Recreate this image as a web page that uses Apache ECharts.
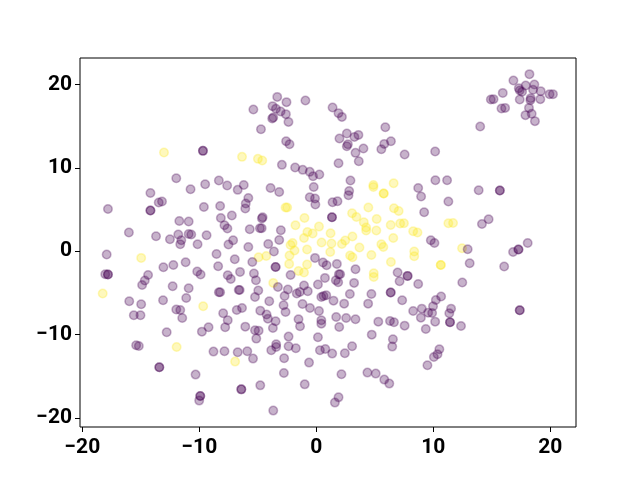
<!DOCTYPE html>
<html lang="en" style="height: 100%">

<head>
    <meta charset="UTF-8">
    <title>t-SNE scatter</title>
    <script src="https://cdn.jsdelivr.net/npm/echarts@6/dist/echarts.min.js"></script>
</head>

<body style="height: 100%; margin: 0; background: #fff">
    <div id="main" style="width: 640px; height: 480px"></div>
    <script>
        var xTicks = [-20, -10, 0, 10, 20];
        var yTicks = [-20, -10, 0, 10, 20];

        // points that sit on top of each other are listed twice, that is what makes them darker
        var yellowPoints = [
            [-13.02, 11.85], [-6.35, 11.33], [-4.99, 11.09], [-4.62, 10.89], [6.61, 8.17], [4.88, 7.96],
            [4.88, 7.72], [5.76, 6.93], [5.76, 6.93], [-2.63, 5.25], [-2.49, 5.25], [4.45, 5.25],
            [6.64, 5.17], [7.04, 4.84], [3.06, 4.56], [3.43, 4.12], [5.16, 3.88], [4.06, 3.48],
            [6.36, 3.16], [7.17, 3.33], [7.49, 3.36], [4.26, 2.85], [4.26, 2.49], [5.13, 2.49],
            [6.58, 1.6], [-1.01, 4.0], [-1.78, 3.12], [0.23, 2.96], [-0.76, 2.32], [-0.31, 2.12],
            [1.22, 2.16], [-1.05, 1.6], [3.09, 1.76], [2.47, 1.28], [2.19, 0.88], [0.45, 1.04],
            [1.3, 0.92], [-2.03, 1.0], [-2.2, 0.76], [-1.86, 0.08], [-0.79, 0.2], [-2.29, -0.52],
            [1.19, -0.08], [3.69, 0.44], [5.56, 0.84], [5.73, 0.52], [2.89, -0.52], [3.09, -0.72],
            [4.71, -0.44], [6.38, -1.29], [-4.93, -0.72], [-4.28, -0.56], [-2.32, -1.52], [-0.79, -1.6],
            [-1.52, -2.37], [-1.05, -2.56], [4.91, -2.64], [4.91, -3.08], [-3.68, -3.8], [11.29, 3.36],
            [11.69, 3.4], [8.28, 2.4], [8.65, 2.25], [12.46, 0.36], [8.37, -0.04], [8.37, -0.6],
            [10.64, -1.65], [10.64, -1.65], [-14.97, -0.8], [-18.26, -5.08], [-9.67, -6.61], [-11.94, -11.49],
            [-6.94, -13.25]
        ];

        var purplePoints = [
            [-9.69, 12.05], [-9.69, 12.05], [-11.97, 8.77], [-9.5, 8.05], [-8.33, 8.49], [-7.62, 7.9],
            [-6.2, 7.96], [-3.34, 18.53], [-2.55, 17.9], [-0.93, 18.1], [-5.38, 17.02], [-3.74, 17.42],
            [-3.45, 17.1], [-3.05, 16.78], [-2.6, 16.46], [-3.68, 16.06], [-3.77, 15.94], [-2.38, 15.53],
            [-4.73, 14.65], [1.39, 17.26], [1.9, 16.58], [2.19, 16.13], [5.9, 14.89], [2.61, 14.13],
            [1.98, 13.54], [3.26, 13.73], [3.6, 13.97], [2.7, 12.85], [2.61, 12.61], [4.03, 12.33],
            [3.35, 11.81], [3.63, 10.81], [6.38, 13.21], [5.81, 12.89], [5.56, 12.25], [7.55, 11.62],
            [-2.58, 13.21], [-2.29, 12.85], [-2.94, 10.37], [-1.81, 10.05], [-1.16, 9.77], [-0.56, 9.53],
            [0.26, 9.21], [-0.28, 9.01], [1.9, 10.57], [2.92, 8.49], [-0.22, 7.72],
            [18.22, 21.26], [16.85, 20.5], [17.9, 19.9], [18.64, 20.02], [17.31, 19.58], [18.53, 19.38],
            [17.39, 19.3], [17.59, 19.14], [19.18, 19.22], [19.94, 18.86], [20.23, 18.86], [15.94, 19.01],
            [14.92, 18.22], [15.15, 18.26], [18.33, 18.38], [18.3, 18.14], [17.39, 18.22], [19.15, 18.26],
            [15.83, 17.14], [16.14, 17.21], [18.18, 17.21], [17.88, 16.34], [18.41, 16.5], [18.69, 15.62],
            [14.01, 14.98], [10.16, 11.97], [10.18, 8.53], [11.18, 8.53],
            [-10.75, 7.45], [-6.72, 7.37], [-14.18, 7.0], [-13.47, 5.85], [-13.19, 5.97], [-17.81, 5.08],
            [-14.18, 4.89], [-14.18, 4.89], [-9.61, 5.32], [-8.22, 5.44], [-5.81, 6.4], [-6.03, 5.73],
            [-6.07, 5.13], [-8.16, 4.0], [-7.22, 4.29], [-11.71, 3.64], [-10.91, 3.57], [-7.85, 3.12],
            [-7.6, 2.73], [-16.02, 2.25], [-13.7, 1.8], [-11.8, 2.0], [-12.51, 1.44], [-11.54, 1.32],
            [-11.63, 0.84], [-10.91, 2.08], [-10.69, 2.0], [-10.15, 0.84], [-9.38, 1.92], [-7.11, 1.32],
            [-7.51, 0.8], [-5.69, 2.64], [-5.81, 0.52], [-8.53, -0.32], [-6.97, -0.96], [-17.92, -0.4],
            [-13.07, -1.92], [-12.22, -1.65], [-11.17, -1.32], [-8.39, -1.8], [-10.18, -2.44], [-9.89, -2.8],
            [-6.52, -2.48], [-7.57, -2.88], [-7.31, -3.33], [-18.04, -2.76], [-17.81, -2.8], [-17.81, -2.8],
            [-14.38, -2.85], [-14.66, -3.52], [-14.89, -4.05], [-12.28, -4.2], [-10.91, -4.44], [-8.33, -4.92],
            [-8.22, -4.92], [-6.63, -4.65], [-6.55, -4.65], [-15.99, -6.0], [-14.97, -6.37], [-13.1, -5.89],
            [-11.12, -5.61],
            [-3.91, 7.6], [-3.17, 7.12], [2.81, 7.24], [2.75, 6.73], [-0.56, 6.49], [-0.11, 6.33],
            [-0.08, 5.61], [1.39, 5.89], [1.81, 6.0], [1.34, 4.08], [1.34, 4.08], [-4.59, 4.08],
            [-4.65, 3.93], [-4.82, 2.76], [-4.67, 2.76], [-3.03, 2.52], [-3.17, 1.36], [-4.11, 0.88],
            [-3.62, -0.04], [-5.47, -1.29], [-5.33, -2.68], [-5.16, -3.48], [-4.96, -4.72], [-5.24, -5.49],
            [-4.02, -6.0], [-3.48, -1.89], [-3.48, -1.89], [-2.2, -2.85], [-3.28, -4.29], [-2.43, -4.6],
            [-2.71, -5.37], [-1.05, -4.12], [-1.41, -4.89], [-1.67, -5.08], [-0.73, -4.8], [0.14, -4.0],
            [0.74, -3.2], [-0.11, -0.8], [0.57, -1.36], [0.88, -1.68], [1.76, -1.52], [1.93, -2.76],
            [2.04, -2.76], [1.67, -3.48], [1.87, -3.72], [3.23, -3.8], [3.35, -2.16], [0.62, -5.37],
            [0.85, -5.29], [0.43, -5.49], [2.87, -5.13], [4.71, -5.13], [6.36, -4.96], [6.36, -4.96],
            [6.95, -2.56], [7.8, -2.96], [7.8, -2.96], [7.12, -3.6], [7.34, -5.89],
            [8.71, 7.6], [8.96, 6.57], [13.88, 7.33], [15.69, 7.29], [15.69, 7.29], [11.29, 5.97],
            [9.22, 4.68], [14.73, 3.84], [14.16, 3.28], [9.79, 1.32], [10.1, 1.0], [12.94, 0.24],
            [18.07, 1.0], [17.28, 0.2], [17.28, 0.2], [16.82, -0.08], [13.11, -1.44], [16.06, -1.84],
            [8.71, -3.93], [12.48, -3.76], [10.67, -5.44], [10.22, -5.85],
            [-15.6, -7.69], [-15.03, -7.69], [-11.97, -7.0], [-11.63, -7.05], [-11.46, -8.01], [-7.96, -7.45],
            [-6.8, -7.05], [-6.35, -6.81], [-7.57, -8.29], [-7.79, -9.13], [-6.07, -9.05], [-12.79, -9.73],
            [-9.21, -9.13], [-9.78, -9.65], [-15.4, -11.29], [-15.17, -11.37], [-8.79, -12.05], [-7.85, -12.01],
            [-6.72, -12.13], [-5.9, -12.01], [-13.42, -13.93], [-13.42, -13.93], [-10.32, -14.81], [-6.41, -16.58],
            [-6.41, -16.58], [-9.92, -17.38], [-9.92, -17.38], [-10.01, -17.93],
            [-4.79, -7.13], [-2.8, -6.49], [-2.63, -7.29], [-4.25, -7.6], [-4.14, -8.09], [-3.48, -8.41],
            [-3.71, -9.21], [-5.24, -9.49], [-4.93, -9.53], [-5.13, -10.49], [-2.37, -10.25], [-3.43, -11.17],
            [-3.43, -11.49], [-3.85, -11.89], [-5.41, -12.89], [-2.37, -11.41], [-1.75, -11.65], [-2.75, -12.85],
            [-0.62, -13.37], [-2.77, -14.62], [-4.79, -16.1], [-0.99, -15.98], [-3.68, -19.13], [2.15, -14.77],
            [1.9, -17.54], [1.59, -18.17], [4.37, -14.57], [5.08, -14.69], [5.81, -15.41], [6.24, -15.89],
            [0.14, -10.33], [0.31, -11.89], [0.77, -11.73], [1.36, -12.29], [2.44, -12.25], [3.06, -11.41],
            [4.74, -10.01], [6.55, -10.57], [6.49, -11.45], [-1.52, -8.17], [-1.39, -9.01], [-1.18, -6.33],
            [-0.54, -6.81], [0.23, -7.17], [0.43, -8.29], [0.43, -8.69], [1.7, -7.89], [1.96, -9.09],
            [2.55, -8.01], [3.35, -8.17], [5.3, -8.45], [6.3, -8.37], [6.64, -8.53], [7.55, -8.93],
            [4.43, -6.29], [1.47, -5.93], [2.38, -6.29],
            [17.39, -7.09], [17.39, -7.09], [8.28, -7.17], [9.02, -6.89], [9.98, -6.61], [9.56, -7.37],
            [9.9, -7.41], [8.94, -7.97], [10.16, -8.45], [11.52, -6.89], [11.37, -7.45], [11.43, -8.53],
            [11.43, -8.53], [12.37, -8.97], [9.36, -9.33], [10.52, -11.77], [10.36, -12.37], [10.05, -12.69],
            [9.5, -13.69]
        ];

        var myChart = echarts.init(document.getElementById("main"));

        function tickLabel(value) {
            return String(value).replace('-', '\u2212');
        }

        function makeAxis(ticks, min, max, margin) {
            return {
                type: 'value',
                min: min,
                max: max,
                splitLine: { show: false },
                axisLine: { show: false, onZero: false },
                axisTick: {
                    show: true,
                    length: 5,
                    lineStyle: { color: '#000', width: 1 },
                    customValues: ticks
                },
                axisLabel: {
                    show: true,
                    color: '#000',
                    fontFamily: 'Roboto',
                    fontWeight: 'bold',
                    fontSize: 21,
                    margin: margin,
                    customValues: ticks,
                    formatter: tickLabel
                }
            };
        }

        var option = {
            animation: false,
            backgroundColor: '#fff',
            grid: {
                show: true,
                left: 80,
                right: 64,
                top: 58,
                bottom: 53,
                borderColor: '#000',
                borderWidth: 1
            },
            xAxis: makeAxis(xTicks, -20.2, 22.2, 10),
            yAxis: makeAxis(yTicks, -21.1, 23.2, 8),
            series: [
                {
                    type: 'scatter',
                    data: yellowPoints,
                    symbolSize: 8.5,
                    itemStyle: {
                        color: 'rgba(253,231,37,0.3)',
                        borderColor: 'rgba(253,231,37,0.3)',
                        borderWidth: 1.5,
                        opacity: 1
                    }
                },
                {
                    type: 'scatter',
                    data: purplePoints,
                    symbolSize: 8.5,
                    itemStyle: {
                        color: 'rgba(68,1,84,0.3)',
                        borderColor: 'rgba(68,1,84,0.3)',
                        borderWidth: 1.5,
                        opacity: 1
                    }
                }
            ]
        };

        myChart.setOption(option);
    </script>
</body>

</html>
